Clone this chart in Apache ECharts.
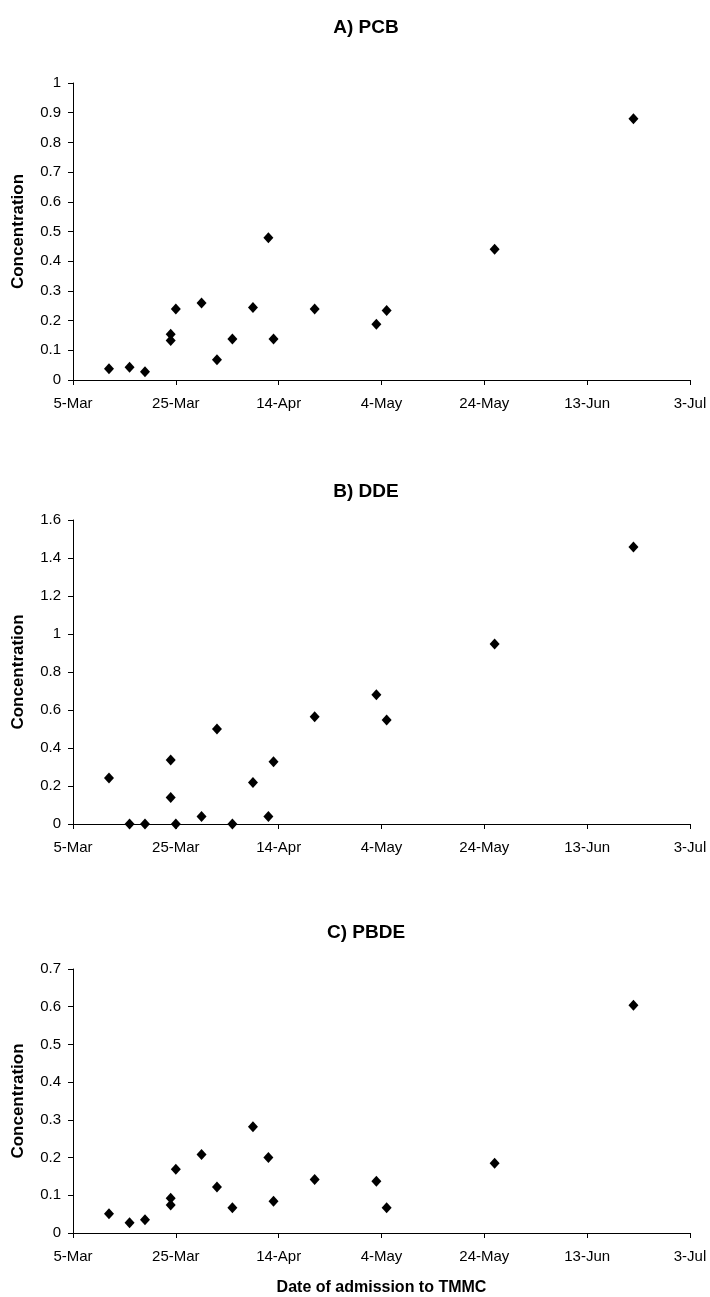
<!DOCTYPE html>
<html>
<head>
<meta charset="utf-8">
<script src="https://cdn.jsdelivr.net/npm/echarts@6/dist/echarts.min.js"></script>
<style>
html,body{margin:0;padding:0;background:#fff;}
#chart{width:710px;height:1297px;}
</style>
</head>
<body>
<div id="chart"></div>
<script>
// Days after 5-Mar (date of admission)
const days = [7, 11, 14, 19, 19, 20, 25, 28, 31, 35, 38, 39, 47, 59, 61, 82, 109];
const pcb  = [0.038, 0.043, 0.028, 0.154, 0.133, 0.239, 0.259, 0.068, 0.138, 0.244, 0.479, 0.138, 0.239, 0.188, 0.234, 0.44, 0.88];
const dde  = [0.242, 0, 0, 0.337, 0.14, 0, 0.039, 0.50, 0, 0.219, 0.039, 0.328, 0.565, 0.68, 0.547, 0.948, 1.458];
const pbde = [0.051, 0.027, 0.035, 0.092, 0.074, 0.169, 0.208, 0.122, 0.067, 0.282, 0.20, 0.084, 0.142, 0.137, 0.067, 0.185, 0.604];
const xTickLabels = ['5-Mar', '25-Mar', '14-Apr', '4-May', '24-May', '13-Jun', '3-Jul'];
const panelTitles = ['A) PCB', 'B) DDE', 'C) PBDE'];
const yMax = [1, 1.6, 0.7];
const yStep = [0.1, 0.2, 0.1];

const FONT = '"Liberation Sans", Arial, sans-serif';
const grids = [
  {left: 73, top: 83, width: 617, height: 297},
  {left: 73, top: 520, width: 617, height: 304},
  {left: 73, top: 969, width: 617, height: 266}
];
const titleTops = [13, 477, 918];
const series = [pcb, dde, pbde];

const axisLine = {show: true, lineStyle: {color: '#000', width: 1}};
const option = {
  backgroundColor: '#fff',
  animation: false,
  title: panelTitles.map((t, i) => ({
    text: t, left: 361, top: titleTops[i], textAlign: 'center',
    textStyle: {fontFamily: FONT, fontWeight: 'bold', fontSize: 19, color: '#000'}
  })),
  grid: grids,
  xAxis: grids.map((g, i) => ({
    type: 'value', gridIndex: i, min: 0, max: 120, interval: 20,
    axisLine: axisLine,
    axisTick: {show: true, length: 5, inside: false, lineStyle: {color: '#000'}},
    splitLine: {show: false},
    axisLabel: {
      fontFamily: FONT, fontSize: 15, color: '#000', margin: 16,
      formatter: v => xTickLabels[Math.round(v / 20)]
    },
    name: i === 2 ? 'Date of admission to TMMC' : '',
    nameLocation: 'middle', nameGap: 47,
    nameTextStyle: {fontFamily: FONT, fontWeight: 'bold', fontSize: 16, color: '#000'}
  })),
  yAxis: grids.map((g, i) => ({
    type: 'value', gridIndex: i, min: 0, max: yMax[i], interval: yStep[i],
    axisLine: axisLine,
    axisTick: {show: true, length: 5, inside: false, lineStyle: {color: '#000'}},
    splitLine: {show: false},
    axisLabel: {fontFamily: FONT, fontSize: 15, color: '#000', margin: 12},
    name: 'Concentration', nameLocation: 'middle', nameRotate: 90, nameGap: 46,
    nameTextStyle: {fontFamily: FONT, fontWeight: 'bold', fontSize: 17, color: '#000'}
  })),
  series: series.map((vals, i) => ({
    type: 'scatter', xAxisIndex: i, yAxisIndex: i,
    symbol: 'diamond', symbolSize: [10, 11],
    itemStyle: {color: '#000', opacity: 1},
    data: days.map((d, k) => [d, vals[k]])
  }))
};
const chart = echarts.init(document.getElementById('chart'), null, {renderer: 'canvas'});
chart.setOption(option);
</script>
</body>
</html>
